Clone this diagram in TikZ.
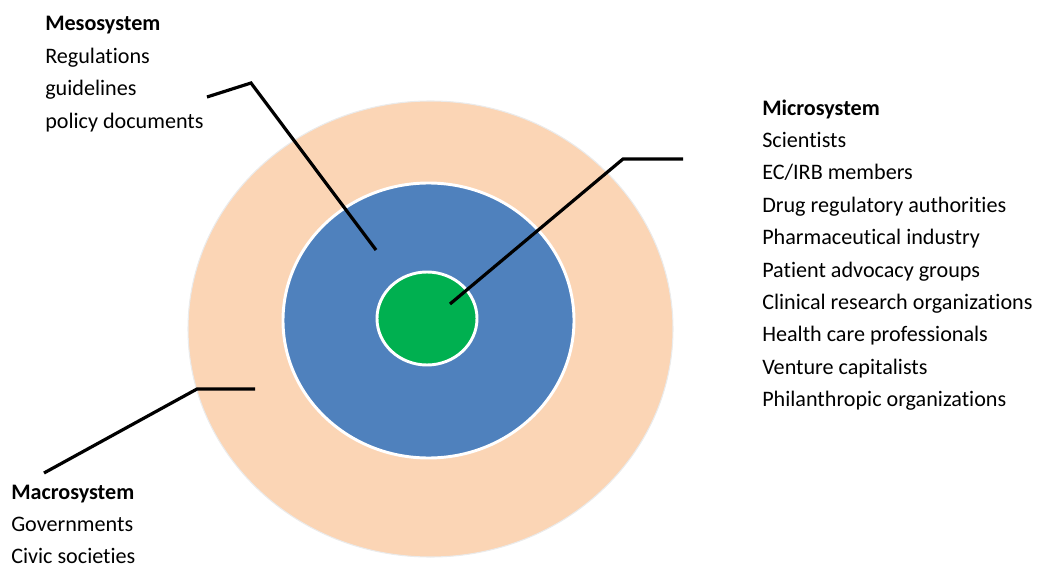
\documentclass[tikz,border=0pt]{standalone}
\usepackage{fontspec}
\setmainfont{Carlito}[Ligatures=NoCommon]
\usetikzlibrary{shapes.geometric}

\definecolor{peach}{RGB}{251,213,181}
\definecolor{mesoblue}{RGB}{79,129,189}
\definecolor{microgreen}{RGB}{0,176,80}

\begin{document}
\begin{tikzpicture}[
x=0.75pt, y=-0.75pt,
ring/.style={ellipse, draw=white, line width=2.2pt, inner sep=0pt},
lead/.style={line width=2.4pt},
label/.style={anchor=base west, align=left, inner sep=0pt, font=\fontsize{16.6}{24.3}\selectfont}
]
\useasboundingbox (0,0) rectangle (1040,567);
% three nested rings
\node[ring, fill=peach, draw=black!8, line width=0.8pt, minimum width=363.75pt, minimum height=342pt] (macro) at (430.5,329) {};
\node[ring, fill=mesoblue, minimum width=218.25pt, minimum height=206.25pt] (meso) at (428.5,320.5) {};
\node[ring, fill=microgreen, minimum width=75pt, minimum height=69.75pt] (micro) at (427,318.5) {};

% labels (anchored at the baseline of their last line)
\node[label] (mesotext) at (45,128.2) {\textbf{Mesosystem}\\Regulations\\guidelines\\policy documents};
\node[label] (microtext) at (762,406.6) {\textbf{Microsystem}\\Scientists\\EC/IRB members\\Drug regulatory authorities\\Pharmaceutical industry\\Patient advocacy groups\\Clinical research organizations\\Health care professionals\\Venture capitalists\\Philanthropic organizations};
\node[label] (macrotext) at (11,563.8) {\textbf{Macrosystem}\\Governments\\Civic societies};

% leader lines
\coordinate (mesotail) at (207,97);
\coordinate (mesoknee) at (251,83);
\coordinate (mesotip) at (376,250);
\coordinate (microtail) at (683,159);
\coordinate (microknee) at (623,159);
\coordinate (microtip) at (450,304);
\coordinate (macrotail) at (44,473);
\coordinate (macroknee) at (197,389);
\coordinate (macrotip) at (255,389);
\draw[lead] (mesotail) -- (mesoknee) -- (mesotip);
\draw[lead] (microtail) -- (microknee) -- (microtip);
\draw[lead] (macrotip) -- (macroknee) -- (macrotail);
\end{tikzpicture}
\end{document}
